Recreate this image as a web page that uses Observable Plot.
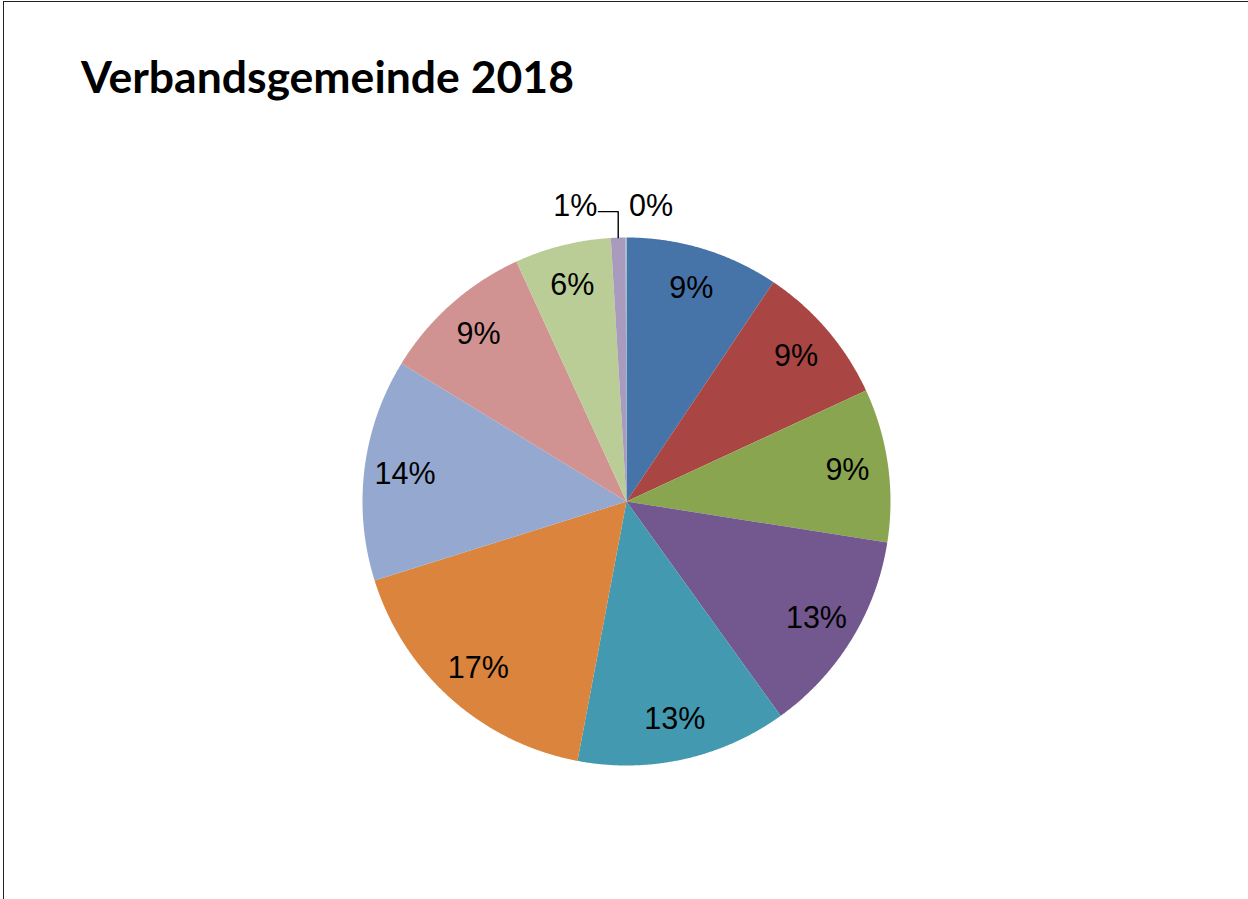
<!DOCTYPE html>
<html>
<head>
<meta charset="utf-8">
<script src="https://cdn.jsdelivr.net/npm/d3@7"></script>
<script src="https://cdn.jsdelivr.net/npm/@observablehq/plot@0.6"></script>
<style>
  html, body { margin: 0; padding: 0; background: #fff; width: 1248px; height: 899px; overflow: hidden; }
  #frame { position: absolute; left: 3px; top: 1px; width: 1300px; height: 950px;
           border-left: 1.6px solid #222; border-top: 1.6px solid #222; box-sizing: border-box; }
  #title { position: absolute; left: 81px; top: 0px; font-family: Lato, "Open Sans", sans-serif;
           font-weight: 700; font-size: 44px; line-height: 1; white-space: nowrap; color: #000;
           transform-origin: 0 0; }
  #chart { position: absolute; left: 326px; top: 201px; }
</style>
</head>
<body>
<div id="frame"></div>
<div id="title">Verbandsgemeinde 2018</div>
<div id="chart"></div>
<script>
// ---- data ----
const categories = ["K1", "K2", "K3", "K4", "K5", "K6", "K7", "K8", "K9", "K10", "K11"];
const shares = [9.4, 8.7, 9.4, 12.6, 12.9, 17.2, 13.6, 9.4, 5.9, 0.9, 0.05];
const colors = ["#4673A8", "#A94542", "#8AA54F", "#72588E", "#4399AF", "#DB843D",
                "#95A9D0", "#D19392", "#BACD96", "#A99BBD", "#92C4D6"];

// ---- layout helpers ----
const SIZE = 600, RADIUS_PX = 264;
const D = (SIZE / 2) / RADIUS_PX;   // data half-extent so that r = 1 -> 264 px
const total = d3.sum(shares);
const rows = categories.map((c, i) => ({cat: c, value: shares[i]}));
const arcs = d3.pie().sort(null).value(d => d.value).startAngle(0).endAngle(2 * Math.PI)(rows);

const pt = (a, r) => ({x: r * Math.sin(a), y: r * Math.cos(a)});

// slice outlines
const slicePts = [];
for (const a of arcs) {
  const cat = a.data.cat;
  slicePts.push({cat, ...pt(0, 0)});
  const n = Math.max(2, Math.ceil((a.endAngle - a.startAngle) / (Math.PI / 720)));
  for (let k = 0; k <= n; k++) {
    const ang = a.startAngle + (a.endAngle - a.startAngle) * k / n;
    slicePts.push({cat, ...pt(ang, 1)});
  }
}

const pctText = v => Math.round(v / total * 100) + "%";
const mid = a => (a.startAngle + a.endAngle) / 2;

// inside labels for the larger slices
const inside = arcs.filter(a => a.data.value / total >= 0.03)
  .map(a => ({...pt(mid(a), 0.845), text: pctText(a.data.value)}));

// outside labels for the small slices
const small = arcs.filter(a => a.data.value / total < 0.03);
const s1 = small[0], s0 = small[1];
const edge1 = pt(mid(s1), 1.0);
const leader = [
  {x: edge1.x, y: edge1.y},
  {x: edge1.x, y: 1.098},
  {x: edge1.x - 0.075, y: 1.098}
];
const outsideLeft = [{x: edge1.x - 0.075, y: 1.098, text: pctText(s1.data.value)}];
const p0 = pt(mid(s0), 1.117);
const outsideRight = [{x: p0.x, y: p0.y, text: pctText(s0.data.value)}];

const font = "'Liberation Sans', Arial, sans-serif";
const FS = 30.5;
const chart = Plot.plot({
  width: SIZE, height: SIZE, margin: 0,
  x: {domain: [-D, D], axis: null},
  y: {domain: [-D, D], axis: null},
  color: {domain: categories, range: colors},
  style: {fontFamily: font, background: "transparent", overflow: "visible"},
  marks: [
    Plot.line(slicePts, {x: "x", y: "y", z: "cat", fill: "cat", stroke: "none", curve: "linear-closed"}),
    Plot.line(leader, {x: "x", y: "y", stroke: "#000", strokeWidth: 1.4}),
    Plot.text(inside, {x: "x", y: "y", text: "text", fontSize: FS, fill: "#000"}),
    Plot.text(outsideLeft, {x: "x", y: "y", text: "text", fontSize: FS, fill: "#000", textAnchor: "end", dx: -1, dy: -5}),
    Plot.text(outsideRight, {x: "x", y: "y", text: "text", fontSize: FS, fill: "#000", textAnchor: "start", dx: 3})
  ]
});
document.getElementById("chart").appendChild(chart);

// fit the title to the reference width and baseline (~y = 93)
const title = document.getElementById("title");
const w = title.getBoundingClientRect().width;
title.style.transform = `scaleX(${493 / w})`;
title.style.top = (93 - (44 * -0.1 + 44 * 0.987)) + "px";
</script>
</body>
</html>
